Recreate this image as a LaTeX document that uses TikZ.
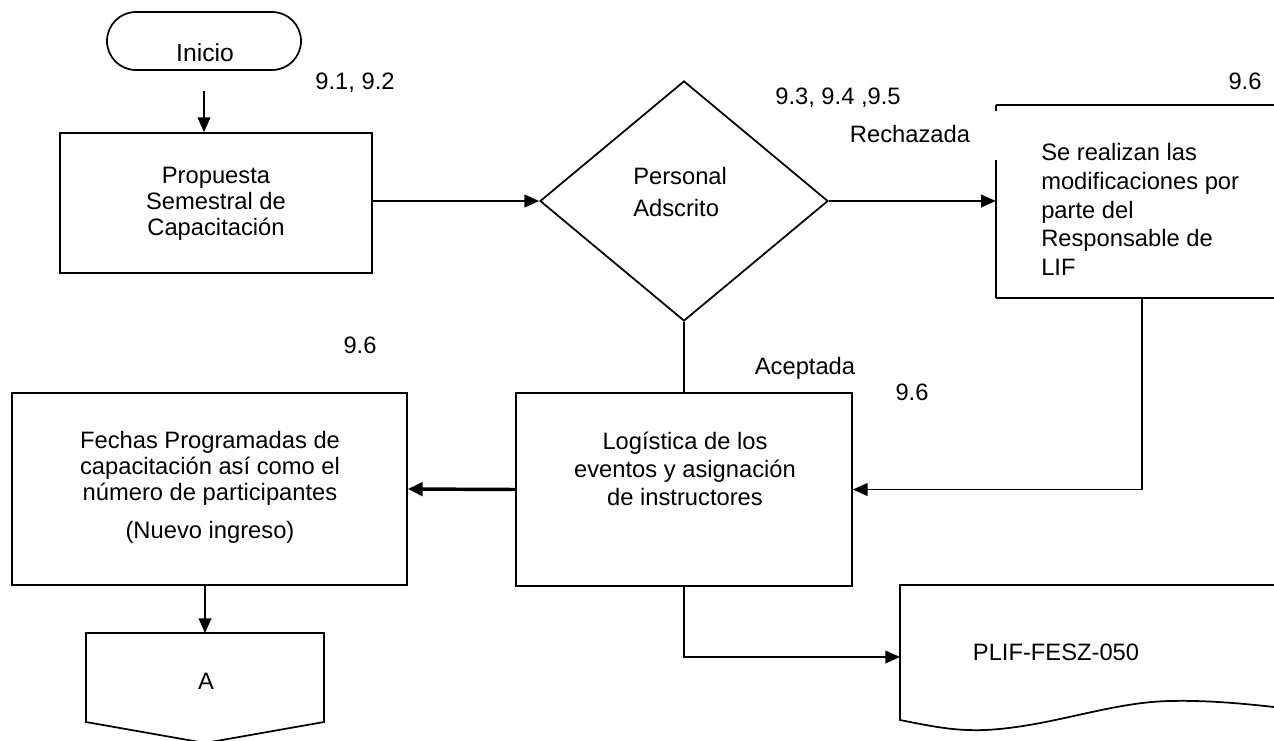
\documentclass[tikz,border=0pt]{standalone}
\usepackage{fontspec}
\setmainfont{Liberation Sans}
\usetikzlibrary{shapes.geometric,arrows.meta,calc}
\newcommand\fs{\fontsize{17.8pt}{19.5pt}\selectfont}
\newcommand\fsbig{\fontsize{18.5pt}{20pt}\selectfont}
\begin{document}
\begin{tikzpicture}[x=0.75pt,y=-0.75pt,
  lw/.style={line width=1.3pt},
  conn/.style={lw, draw=black},
  arr/.style={conn, -{Triangle[length=11pt,width=9.5pt]}},
  thickarr/.style={draw=black, line width=2.6pt, -{Triangle[length=11pt,width=10pt]}},
  box/.style={draw, lw, rectangle, inner sep=0pt},
  txt/.style={font=\fs, align=center, inner sep=0pt},
  lbl/.style={font=\fs, inner sep=0pt}]
\useasboundingbox (0,0) rectangle (1274,740);
\clip (0,0) rectangle (1274,740);
\fill[white] (0,0) rectangle (1274,740);

% shapes
\node[box, rounded corners=21.7pt, minimum width=145.5pt, minimum height=43.5pt] (inicio) at (204,41) {};
\node[txt, font=\fsbig] (inicioT) at (205,53) {Inicio};

\node[box, minimum width=234pt, minimum height=105pt] (prop) at (216,203) {};
\node[txt] (propT) at (216,204) {Propuesta\\Semestral de\\Capacitación};

\node[draw, lw, diamond, inner sep=0pt, minimum width=216pt, minimum height=180pt] (dia) at (684,201) {};
\node[txt, align=left, anchor=west] (diaT) at (633,192) {Personal\\[4pt]Adscrito};

\node[rectangle, inner sep=0pt, minimum width=243pt, minimum height=144.75pt] (lif) at (1158,201.5) {};
\draw[lw] (lif.north west) -- (lif.north east);
\draw[lw] (lif.south west) -- (lif.south east);
\draw[lw] (lif.north west) -- ++(0,6);
\draw[lw] (lif.south west) -- ++(0,-138);
\node[txt, align=left, anchor=west, font=\fontsize{17.8pt}{21.5pt}\selectfont] (lifT) at (1041,209.5)
  {Se realizan las\\modificaciones por\\parte del\\Responsable de\\LIF};
\coordinate (lifb) at ([xshift=109.5pt]lif.south west);

\node[box, minimum width=296.25pt, minimum height=144pt] (fech) at (209.5,489) {};
\node[txt] (fechT) at (210,487)
  {Fechas Programadas de\\capacitación así como el\\número de participantes\\[9pt](Nuevo ingreso)};

\node[box, minimum width=252pt, minimum height=144.75pt] (log) at (684,489.5) {};
\node[txt, font=\fontsize{17.8pt}{21pt}\selectfont] (logT) at (685,468.5)
  {Logística de los\\eventos y asignación\\de instructores};

% off-page connector A
\coordinate (atop) at (205,633);
\draw[lw] (86,633) -- (324,633) -- (324,722) -- (205,743) -- (86,722) -- cycle;
\node[txt] (aT) at (206,681) {A};

% document
\coordinate (docl) at (900,657);
\draw[lw] (1300,585) -- (900,585) -- (900,720)
  .. controls (935,727) and (955,731) .. (985,730)
  .. controls (1050,727) and (1110,702) .. (1170,701)
  .. controls (1210,700) and (1250,704) .. (1300,710);
\node[txt] (docT) at (1056,652) {PLIF-FESZ-050};

% labels
\node[lbl] (l91) at (355,83) {9.1, 9.2};
\node[lbl] (l93) at (838,98) {9.3, 9.4 ,9.5};
\node[lbl] (l96a) at (1245,81) {9.6};
\node[lbl] (lrech) at (910,134) {Rechazada};
\node[lbl] (l96b) at (360,345) {9.6};
\node[lbl] (lacep) at (805,368) {Aceptada};
\node[lbl] (l96c) at (912,392) {9.6};

% connectors
\draw[arr, shorten <=15pt] (inicio.south) -- (prop.north -| inicio.south);
\draw[arr] (prop.east |- dia.west) -- (dia.west);
\draw[arr] (dia.east) -- (dia.east -| lif.west);
\draw[conn] (dia.south) -- (log.north);
\draw[arr] (lifb) |- (log.east);
\draw[thickarr] (log.west) -- (fech.east);
\draw[arr] (fech.south -| atop) -- (atop);
\draw[arr] (log.south) |- (docl);
\end{tikzpicture}
\end{document}
